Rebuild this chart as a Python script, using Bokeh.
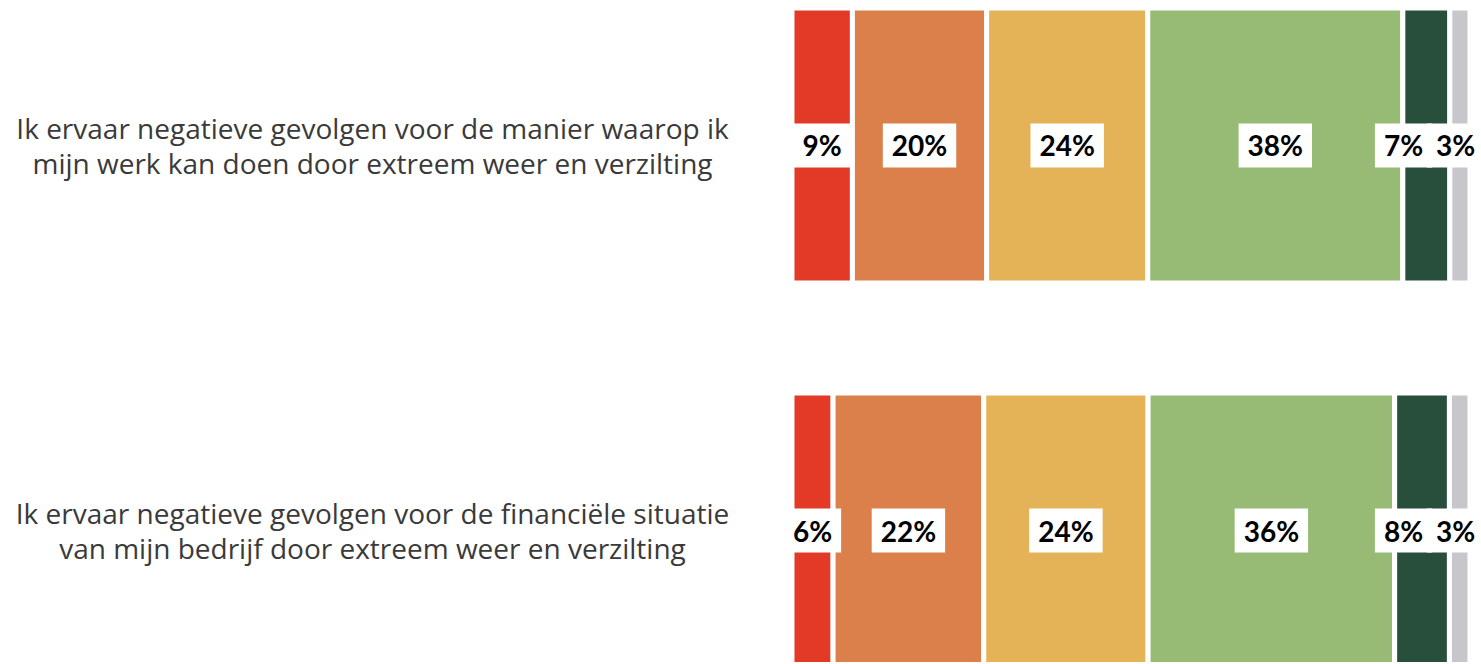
from bokeh.plotting import figure
from bokeh.models import ColumnDataSource, Range1d
from bokeh.core.properties import value
from bokeh.embed import file_html
from bokeh.resources import INLINE

# ---- data ----
categories = [
    "Ik ervaar negatieve gevolgen voor de manier waarop ik\nmijn werk kan doen door extreem weer en verzilting",
    "Ik ervaar negatieve gevolgen voor de financiële situatie\nvan mijn bedrijf door extreem weer en verzilting",
]
level1 = [9, 6]
level2 = [20, 22]
level3 = [24, 24]
level4 = [38, 36]
level5 = [7, 8]
level6 = [3, 3]
series = [level1, level2, level3, level4, level5, level6]
colors = ["#E23A27", "#DB7F4B", "#E4B357", "#97BA74", "#284E3C", "#C6C6CB"]

# ---- layout ----
W, H = 1481, 664
X0, X1 = -116.74, 101.70
p = figure(width=W, height=H, output_backend="svg", toolbar_location=None,
           x_range=Range1d(X0, X1), y_range=Range1d(-0.348, 1.3766),
           min_border=0, outline_line_color=None)
p.xaxis.visible = False
p.yaxis.visible = False
p.xgrid.visible = False
p.ygrid.visible = False
p.background_fill_color = "white"
p.border_fill_color = "white"

px_per_unit = W / (X1 - X0)

n = len(categories)
ypos = [n - 1 - i for i in range(n)]
totals = [sum(s[i] for s in series) for i in range(n)]

lefts = [0.0] * n
centers = [[] for _ in range(n)]
texts = [[] for _ in range(n)]
for s, c in zip(series, colors):
    share = [s[i] / totals[i] * 100 for i in range(n)]
    rights = [lefts[i] + share[i] for i in range(n)]
    src = ColumnDataSource(dict(y=ypos, left=list(lefts), right=rights))
    p.hbar(y="y", left="left", right="right", height=0.714, source=src,
           fill_color=c, line_color="white", line_width=5)
    for i in range(n):
        centers[i].append((lefts[i] + rights[i]) / 2)
        texts[i].append(f"{s[i]}%")
    lefts = rights

# dodge labels so their boxes don't overlap (right to left)
label_x, label_y, label_t = [], [], []
for i in range(n):
    limit = X1
    xs = [0.0] * len(texts[i])
    for k in range(len(texts[i]) - 1, -1, -1):
        t = texts[i][k]
        w = (16 * (len(t) - 1) + 22 + 14) / px_per_unit
        cx = min(centers[i][k], limit - w / 2)
        xs[k] = cx
        limit = cx - w / 2
    label_x += xs
    label_y += [ypos[i]] * len(xs)
    label_t += texts[i]

lsrc = ColumnDataSource(dict(x=label_x, y=label_y, t=label_t))
p.text(x="x", y="y", text="t", source=lsrc, text_align="center",
       text_baseline="middle", text_font=value("Lato"), text_font_style="bold",
       text_font_size="28px", text_color="black",
       background_fill_color="white", padding=[9, 5])

csrc = ColumnDataSource(dict(x=[X0 + 372 / px_per_unit] * n, y=ypos, t=categories))
p.text(x="x", y="y", text="t", source=csrc, text_align="center",
       text_baseline="middle", text_font=value("Open Sans"),
       text_font_size="28px", text_color="#3a3a3a", text_line_height=0.9)

open("out.html", "w").write(file_html(p, INLINE))
